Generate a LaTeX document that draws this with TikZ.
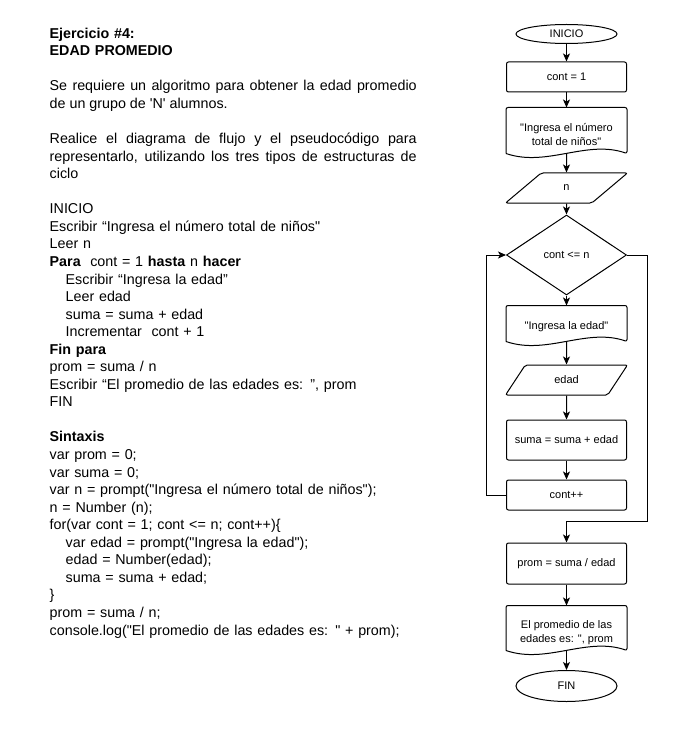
\documentclass[tikz,border=0pt]{standalone}
\usepackage{fontspec}
\usetikzlibrary{shapes.geometric, arrows.meta}
\newfontfamily\arialfont{Liberation Sans}
\hyphenpenalty=10000
\tikzset{>={Stealth[length=8pt, width=7pt, inset=2pt]}}
\tikzset{
    texto/.style = {anchor=base west, inner sep=0pt, text width=367pt, align=left, font=\arialfont\fontsize{14.3}{17.55}\selectfont},
    flujo/.style = {draw, line width=1pt, inner sep=0pt, align=center, font=\arialfont\fontsize{11}{14.3}\selectfont},
    terminal/.style = {flujo, ellipse, minimum width=101pt},
    proceso/.style = {flujo, rectangle, rounded corners=2pt, minimum width=120pt, minimum height=30pt},
    documento/.style = {flujo, draw=none, rectangle, minimum width=120pt, text height=15pt},
    lectura/.style = {flujo, trapezium, trapezium left angle=54, trapezium right angle=126, trapezium stretches=true, rounded corners=2pt, minimum width=122pt, minimum height=30pt},
    decision/.style = {flujo, diamond, minimum width=120pt, minimum height=80pt},
    flecha/.style = {->, line width=1pt}
}

\begin{document}
\begin{tikzpicture}[x=1pt, y=-1pt]
    \useasboundingbox (0,0) rectangle (700,730);
    \node[texto] (titulo) at (49.5,38.3) {\bfseries Ejercicio \#4:\\EDAD PROMEDIO};
    \node[texto, align=justify] (problema) at (49.5,90.95) {Se requiere un algoritmo para obtener la edad promedio\linebreak de un grupo de 'N' alumnos.};
    \node[texto, align=justify] (tarea) at (49.5,143.6) {Realice el diagrama de flujo y el pseudocódigo para\linebreak representarlo, utilizando los tres tipos de estructuras de\linebreak ciclo};
    \node[texto] (pseudo) at (49.5,213.8) {INICIO\\
        Escribir “Ingresa el número total de niños"\\
        Leer n\\
        \textbf{Para}\ \ cont = 1 \textbf{hasta} n \textbf{hacer}\\
        \hspace*{16pt}Escribir “Ingresa la edad”\\
        \hspace*{16pt}Leer edad\\
        \hspace*{16pt}suma = suma + edad\\
        \hspace*{16pt}Incrementar\ \ cont + 1\\
        \textbf{Fin para}\\
        prom = suma / n\\
        Escribir “El promedio de las edades es: ”, prom\\
        FIN};
    \node[texto] (sintaxis) at (49.5,441.95) {\textbf{Sintaxis}\\
        var prom = 0;\\
        var suma = 0;\\
        var n = prompt("Ingresa el número total de niños");\\
        n = Number (n);\\
        for(var cont = 1; cont <= n; cont++)\{\\
        \hspace*{16pt}var edad = prompt("Ingresa la edad");\\
        \hspace*{16pt}edad = Number(edad);\\
        \hspace*{16pt}suma = suma + edad;\\
        \}\\
        prom = suma / n;\\
        console.log("El promedio de las edades es: " + prom);};

    \node[terminal, minimum height=19pt] (inicio) at (566.5,34) {INICIO};
    \node[proceso] (contuno) at (566.5,77) {cont = 1};
    \node[documento, minimum height=45pt, text height=31pt] (msjtotal) at (566.5,130.5) {"Ingresa el número\\total de niños"};
    \node[lectura] (leern) at (566.5,188) {n};
    \node[decision] (cond) at (566.5,255) {cont <= n};
    \node[documento, minimum height=35pt] (msjedad) at (566.5,323.5) {"Ingresa la edad"};
    \node[lectura] (leeredad) at (566.5,380) {edad};
    \node[proceso, minimum height=40pt] (suma) at (566.5,440) {suma = suma + edad};
    \node[proceso] (incr) at (566.5,495) {cont++};
    \node[proceso, minimum height=41pt] (prom) at (566.5,563.5) {prom = suma / edad};
    \node[documento, minimum height=44pt, text height=31pt] (msjprom) at (566.5,628) {El promedio de las\\edades es: ", prom};
    \node[terminal, minimum height=31pt] (fin) at (566.5,686) {FIN};
    \coordinate (vuelta) at (486.5,495);
    \coordinate (salida) at (647,521);

    \foreach \d in {msjtotal, msjedad, msjprom}
        \draw[line width=1pt] (\d.south west) [rounded corners=2pt] -- (\d.north west) -- (\d.north east) -- (\d.south east) [sharp corners] .. controls ([xshift=20pt, yshift=14pt]\d.south) and ([xshift=-20pt, yshift=-14pt]\d.south) .. (\d.south west);

    \draw[flecha] (inicio) -- (contuno);
    \draw[flecha] (contuno) -- (msjtotal);
    \draw[flecha] (msjtotal) -- (leern);
    \draw[flecha] (leern) -- (cond);
    \draw[flecha] (cond) -- (msjedad);
    \draw[flecha] (msjedad) -- (leeredad);
    \draw[flecha] (leeredad) -- (suma);
    \draw[flecha] (suma) -- (incr);
    \draw[flecha] (incr) -- (vuelta) |- (cond);
    \draw[flecha] (cond) -| (salida) -| (prom);
    \draw[flecha] (prom) -- (msjprom);
    \draw[flecha] (msjprom) -- (fin);
\end{tikzpicture}
\end{document}
